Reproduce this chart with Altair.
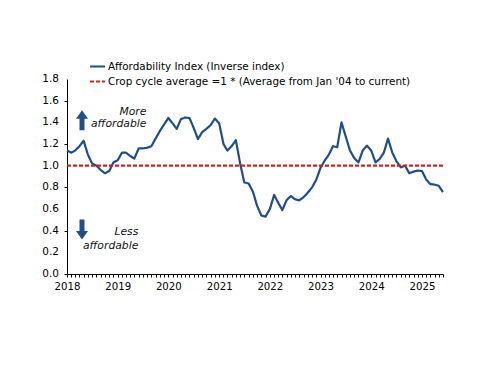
import altair as alt
import pandas as pd

# ---- data -------------------------------------------------------------
months = pd.date_range("2018-01-01", periods=90, freq="MS")  # Jan 2018 .. Jun 2025

affordability = [
    1.14, 1.12, 1.14, 1.18, 1.23, 1.10, 1.02, 1.00, 0.96, 0.93, 0.95, 1.03,   # 2018
    1.05, 1.12, 1.12, 1.09, 1.065, 1.16, 1.16, 1.165, 1.18, 1.25, 1.32, 1.38,  # 2019
    1.44, 1.39, 1.34, 1.43, 1.445, 1.44, 1.35, 1.245, 1.31, 1.34, 1.375, 1.435,  # 2020
    1.39, 1.20, 1.14, 1.18, 1.235, 1.02, 0.845, 0.835, 0.76, 0.63, 0.54, 0.53,  # 2021
    0.60, 0.73, 0.66, 0.59, 0.68, 0.72, 0.69, 0.68, 0.71, 0.75, 0.80, 0.87,    # 2022
    0.98, 1.05, 1.10, 1.18, 1.17, 1.40, 1.27, 1.14, 1.07, 1.03, 1.14, 1.185,   # 2023
    1.14, 1.03, 1.06, 1.12, 1.25, 1.12, 1.04, 0.985, 1.00, 0.93, 0.945, 0.955, # 2024
    0.95, 0.87, 0.83, 0.825, 0.815, 0.755,                                     # 2025
]
crop_cycle_average = [1.0] * 90

series_names = [
    "Affordability Index (Inverse index)",
    "Crop cycle average =1 * (Average from Jan '04 to current)",
]
series_colors = ["#1F4E8C", "#D42020"]
series_dashes = [[1, 0], [4, 2]]

note_text = ["More", "affordable", "Less", "affordable"]
note_date = ["2019-07-27", "2019-07-27", "2019-05-30", "2019-05-30"]
note_value = [1.50, 1.385, 0.385, 0.26]

arrow_date = ["2018-04-19", "2018-04-19"]
arrow_value = [1.42, 0.41]

y_label_values = [0.0, 0.2, 0.4, 0.6, 0.8, 1.0, 1.2, 1.4, 1.6, 1.8]
y_label_text = ["0.0", "0.2", "0.4", "0.6", "0.8", "1.0", "1.2", "1.4", "1.6", "1.8"]
y_tick_values = [round(i * 0.1, 1) for i in range(19)]

# ---- tables -----------------------------------------------------------
lines = pd.concat([
    pd.DataFrame({"date": months, "value": affordability, "series": series_names[0]}),
    pd.DataFrame({"date": months, "value": crop_cycle_average, "series": series_names[1]}),
])
notes = pd.DataFrame({"date": pd.to_datetime(note_date), "value": note_value, "text": note_text})
up_arrow = pd.DataFrame({"date": pd.to_datetime(arrow_date[:1]), "value": arrow_value[:1]})
down_arrow = pd.DataFrame({"date": pd.to_datetime(arrow_date[1:]), "value": arrow_value[1:]})
y_labels = pd.DataFrame({"date": [months[0]] * len(y_label_values),
                         "value": y_label_values, "text": y_label_text})

FONT = "DejaVu Sans"

x_scale = alt.Scale(domain=[alt.DateTime(year=2018, month=1, date=1),
                            alt.DateTime(year=2025, month=6, date=1)], nice=False)
y_scale = alt.Scale(domain=[0, 1.8], nice=False, zero=True)

x_axis = alt.Axis(
    title=None, grid=False, tickCount={"interval": "month", "step": 1},
    labelExpr="month(datum.value) == 0 ? timeFormat(datum.value, '%Y') : ''",
    labelFlush=False, labelOverlap=False, tickSize=3, labelPadding=4,
    labelFontSize=10.2,
)
y_axis = alt.Axis(
    title=None, grid=False, values=y_tick_values, labels=False, tickSize=3,
)

line_layer = alt.Chart(lines).mark_line(strokeWidth=2.2, strokeJoin="round").encode(
    x=alt.X("date:T", scale=x_scale, axis=x_axis),
    y=alt.Y("value:Q", scale=y_scale, axis=y_axis),
    color=alt.Color("series:N", scale=alt.Scale(domain=series_names, range=series_colors), title=None),
    strokeDash=alt.StrokeDash("series:N", scale=alt.Scale(domain=series_names, range=series_dashes), title=None),
)

UP_PATH = "M 0 -1 L 0.6 -0.15 L 0.25 -0.15 L 0.25 1 L -0.25 1 L -0.25 -0.15 L -0.6 -0.15 Z"
DOWN_PATH = "M 0 1 L 0.6 0.15 L 0.25 0.15 L 0.25 -1 L -0.25 -1 L -0.25 0.15 L -0.6 0.15 Z"

up_layer = alt.Chart(up_arrow).mark_point(shape=UP_PATH, filled=True, size=400,
                                          color="#1F4E8C", opacity=1).encode(
    x="date:T", y="value:Q")
down_layer = alt.Chart(down_arrow).mark_point(shape=DOWN_PATH, filled=True, size=400,
                                              color="#1F4E8C", opacity=1).encode(
    x="date:T", y="value:Q")

text_layer = alt.Chart(notes).mark_text(
    align="right", baseline="middle", font=FONT, fontSize=10.8,
    fontStyle="italic", color="#111111",
).encode(x="date:T", y="value:Q", text="text:N")

y_label_layer = alt.Chart(y_labels).mark_text(
    align="right", baseline="middle", font=FONT, fontSize=10.5, color="#000000", dx=-8,
).encode(x="date:T", y="value:Q", text="text:N")

chart = alt.layer(line_layer, up_layer, down_layer, text_layer, y_label_layer).properties(
    width=376, height=195,
    autosize=alt.AutoSizeParams(type="none"),
    padding={"left": 59, "top": 71, "right": 30, "bottom": 40},
    background="white",
).configure_view(strokeWidth=0).configure_axis(
    labelFont=FONT, labelColor="#000000", domainColor="#000000",
    tickColor="#000000", domainWidth=1, tickWidth=1,
).configure_legend(
    orient="none", legendX=22, legendY=-21, padding=0,
    symbolType="stroke", symbolSize=225, symbolStrokeWidth=2,
    labelFont=FONT, labelFontSize=10.4, labelColor="#000000",
    labelOffset=2, rowPadding=1, labelLimit=400,
)

chart.save("out.html", embed_options={"renderer": "svg", "actions": False})
